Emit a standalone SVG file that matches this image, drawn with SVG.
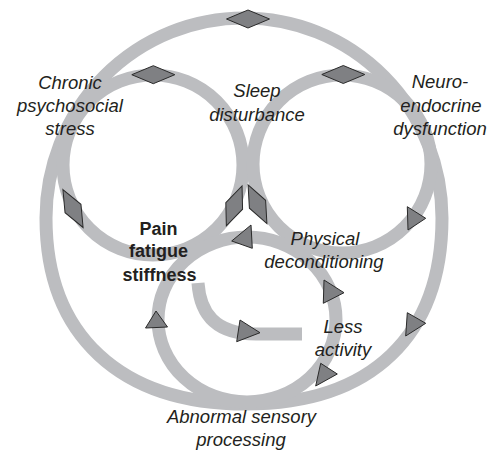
<svg xmlns="http://www.w3.org/2000/svg" width="494" height="450" viewBox="0 0 494 450">
<style>
.band{fill:none;stroke:#bcbdc0;stroke-width:13}
.mk{fill:#7f8083;stroke:#2a2a2a;stroke-width:1;stroke-linejoin:miter}
.lbl{font-family:"Liberation Sans",Arial,sans-serif;font-size:18.5px;font-style:italic;fill:#231f20;text-anchor:middle}
.bold{font-family:"Liberation Sans",Arial,sans-serif;font-size:18px;font-weight:bold;fill:#231f20;text-anchor:middle}
</style>
<defs>
<path id="dia" d="M-21.5 0 L0 -9 L21.5 0 L0 9 Z"/>
</defs>
<rect width="494" height="450" fill="#ffffff"/>
<g id="connectors">
<path class="band" d="M46 218 A198 200 0 0 1 442 218 C442 335 372 404 246 404 C120 404 46 335 46 218 Z"/>
<circle class="band" cx="153" cy="165" r="90"/>
<circle class="band" cx="342" cy="164" r="89"/>
<ellipse class="band" cx="247" cy="319.5" rx="89" ry="82.5"/>
<path class="band" d="M198 283 C200 312 214 334 256 334 L302 334"/>
</g>
<g id="markers">
<use href="#dia" class="mk" transform="translate(248 19)"/>
<use href="#dia" class="mk" transform="translate(153.3 74.7)"/>
<use href="#dia" class="mk" transform="translate(343.3 74.5)"/>
<use href="#dia" class="mk" transform="translate(73 208.5) rotate(62)"/>
<use href="#dia" class="mk" transform="translate(234.2 205.9) rotate(-68.6)"/>
<use href="#dia" class="mk" transform="translate(257.5 204.2) rotate(64)"/>
<polygon class="mk" points="156,311 145.5,328 167.5,327"/>
<polygon class="mk" points="240,320 260,332.7 236.7,341.7"/>
<polygon class="mk" points="231.7,241 251,225 252.3,248.3"/>
<polygon class="mk" points="407.3,206.7 425.7,218.3 408,230"/>
<polygon class="mk" points="324,280 344,292.7 323.3,303.3"/>
<polygon class="mk" points="407.3,312.7 425.7,323.3 405.7,336"/>
<polygon class="mk" points="320.7,363.3 337.3,374 315.7,386"/>
</g>
<g id="node-chronic">
<text class="lbl" x="70" y="89">Chronic</text>
<text class="lbl" x="70" y="112">psychosocial</text>
<text class="lbl" x="70" y="135">stress</text>
</g>
<g id="node-sleep">
<text class="lbl" x="257" y="97">Sleep</text>
<text class="lbl" x="257" y="121">disturbance</text>
</g>
<g id="node-neuro">
<text class="lbl" x="440" y="88">Neuro-</text>
<text class="lbl" x="441" y="112">endocrine</text>
<text class="lbl" x="440" y="135">dysfunction</text>
</g>
<g id="node-pain">
<text class="bold" x="158.5" y="234.5">Pain</text>
<text class="bold" x="158.5" y="257">fatigue</text>
<text class="bold" x="159.5" y="281">stiffness</text>
</g>
<g id="node-physical">
<text class="lbl" x="325" y="245">Physical</text>
<text class="lbl" x="324" y="268">deconditioning</text>
</g>
<g id="node-less">
<text class="lbl" x="343" y="333">Less</text>
<text class="lbl" x="343" y="356">activity</text>
</g>
<g id="node-abnormal">
<text class="lbl" x="241.5" y="423">Abnormal sensory</text>
<text class="lbl" x="241" y="446">processing</text>
</g>
</svg>
